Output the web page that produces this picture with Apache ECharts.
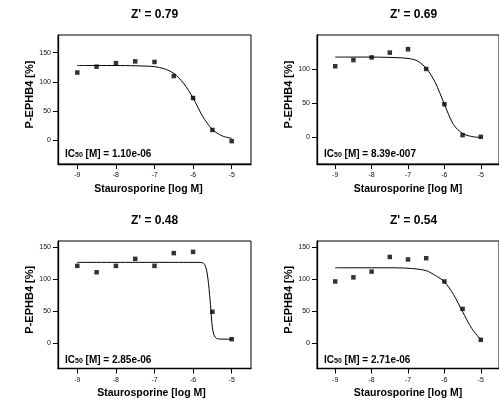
<!DOCTYPE html>
<html>
<head>
<meta charset="utf-8">
<script src="https://cdn.jsdelivr.net/npm/echarts@6/dist/echarts.min.js"></script>
<style>
html,body{margin:0;padding:0;background:#fff;}
#chart{width:499px;height:400px;}
</style>
</head>
<body>
<div id="chart"></div>
<script>
// ---- data ----
var concLog = [-9, -8.5, -8, -7.5, -7, -6.5, -6, -5.5, -5];
var points1 = [116, 126, 132, 135, 134, 110, 72.5, 18, -1];
var points2 = [104, 113, 117, 124, 129, 100, 48, 2.5, 0];
var points3 = [121, 111, 121, 132, 121, 141, 143, 49, 6];
var points4 = [96.5, 103, 112, 135, 131, 133, 96.5, 53.5, 5];

// fitted curves
var curve1X = [-9, -8.75, -8.5, -8.25, -8, -7.75, -7.5, -7.25, -7, -6.75, -6.5, -6.25, -6, -5.75, -5.5, -5.25, -5];
var curve1Y = [128, 128, 128, 128, 128, 127.8, 127.5, 127, 126, 122.5, 114.5, 98, 72.5, 41, 19, 8, 3.8];
var curve2X = [-9, -8.75, -8.5, -8.25, -8, -7.75, -7.5, -7.25, -7, -6.75, -6.5, -6.25, -6, -5.75, -5.5, -5.25, -5];
var curve2Y = [117.5, 117.5, 117.5, 117.5, 117.5, 117.3, 117, 116.5, 115.5, 112, 101, 80, 48, 18, 5, 0.5, -1];
var curve3X = [-9, -8.5, -8, -7.5, -7, -6.5, -6, -5.9, -5.8, -5.75, -5.7, -5.65, -5.6, -5.55, -5.5, -5.45, -5.4, -5.35, -5.3, -5.2, -5.1, -5];
var curve3Y = [126.5, 126.5, 126.5, 126.5, 126.5, 126.5, 126.5, 126.5, 126.3, 125.8, 123, 114, 93, 60, 24, 11, 7.5, 6.5, 6.2, 6, 6, 6];
var curve4X = [-9, -8.75, -8.5, -8.25, -8, -7.75, -7.5, -7.25, -7, -6.75, -6.5, -6.25, -6, -5.75, -5.5, -5.25, -5];
var curve4Y = [118, 118, 118, 118, 118, 118, 118, 117.8, 117.3, 116, 113.5, 106, 96, 76, 49, 23, 5];

var zTitles = ["Z' = 0.79", "Z' = 0.69", "Z' = 0.48", "Z' = 0.54"];
var ic50Values = ["1.10e-06", "8.39e-007", "2.85e-06", "2.71e-06"];
var xTicks = [-9, -8, -7, -6, -5];
var yTicks1 = [0, 50, 100, 150];
var yTicks2 = [0, 50, 100];
var yTicks3 = [0, 50, 100, 150];
var yTicks4 = [0, 50, 100, 150];
var yName = "P-EPHB4 [%]";
var xName = "Staurosporine [log M]";

// ---- layout ----
var FONT = "'Liberation Sans', Arial, Helvetica, sans-serif";
var grids = [
  {left: 58, top: 35, width: 193, height: 129},
  {left: 317, top: 35, width: 193, height: 129},
  {left: 58, top: 241, width: 193, height: 129},
  {left: 317, top: 241, width: 193, height: 129}
];
var yRanges = [[-40, 180], [-40, 150], [-40, 160], [-40, 160]];
var yTicksAll = [yTicks1, yTicks2, yTicks3, yTicks4];
var pointsAll = [points1, points2, points3, points4];
var curvesAll = [[curve1X, curve1Y], [curve2X, curve2Y], [curve3X, curve3Y], [curve4X, curve4Y]];
var xNamePad = [[0, 12, 0, 0], [0, 0, 0, 0], [0, 6, 0, 0], [0, 0, 0, 0]];

var gridOpts = [], xAxes = [], yAxes = [], series = [], graphics = [];
for (var i = 0; i < 4; i++) {
  var g = grids[i];
  gridOpts.push({left: g.left, top: g.top, width: g.width, height: g.height,
    show: true, borderColor: '#000', borderWidth: 1, backgroundColor: 'transparent', containLabel: false});
  xAxes.push({
    type: 'value', gridIndex: i, min: -9.5, max: -4.5,
    name: xName, nameLocation: 'middle', nameGap: 19.5,
    nameTextStyle: {fontFamily: FONT, fontWeight: 'bold', fontSize: 10.5, color: '#000', padding: xNamePad[i]},
    axisLine: {show: true, onZero: false, lineStyle: {color: '#000', width: 1.3}},
    axisTick: {show: true, length: 5, customValues: xTicks, lineStyle: {color: '#000', width: 1}},
    axisLabel: {customValues: xTicks, margin: 8, fontFamily: FONT, fontSize: 7, color: '#111'},
    splitLine: {show: false}
  });
  yAxes.push({
    type: 'value', gridIndex: i, min: yRanges[i][0], max: yRanges[i][1],
    name: yName, nameLocation: 'middle', nameGap: 20, nameRotate: 90,
    nameTextStyle: {fontFamily: FONT, fontWeight: 'bold', fontSize: 11, color: '#000', padding: [0, 0, 0, 10]},
    axisLine: {show: true, onZero: false, lineStyle: {color: '#000', width: 1.3}},
    axisTick: {show: true, length: 5, customValues: yTicksAll[i], lineStyle: {color: '#000', width: 1}},
    axisLabel: {customValues: yTicksAll[i], margin: 7, fontFamily: FONT, fontSize: 7, color: '#111'},
    splitLine: {show: false}
  });
  var pts = pointsAll[i].map(function (v, k) { return [concLog[k], v]; });
  var cx = curvesAll[i][0], cy = curvesAll[i][1];
  var cur = cx.map(function (x, k) { return [x, cy[k]]; });
  series.push({
    type: 'line', xAxisIndex: i, yAxisIndex: i, data: cur, smooth: 0.3,
    showSymbol: false, symbol: 'none', lineStyle: {color: '#000', width: 1}, silent: true, z: 2
  });
  series.push({
    type: 'scatter', xAxisIndex: i, yAxisIndex: i, data: pts, symbol: 'rect', symbolSize: 4.5,
    itemStyle: {color: '#000'}, silent: true, z: 3
  });
  graphics.push({
    type: 'text', x: g.left + g.width / 2, y: g.top - 20,
    style: {text: zTitles[i], fontFamily: FONT, fontWeight: 'bold', fontSize: 12, fill: '#000',
      align: 'center', verticalAlign: 'middle'}
  });
  graphics.push({
    type: 'text', x: g.left + 7, y: g.top + g.height - 11,
    style: {
      text: '{n|IC}{s|50}{n| [M] = ' + ic50Values[i] + '}',
      align: 'left', verticalAlign: 'middle',
      rich: {
        n: {fontFamily: FONT, fontWeight: 'bold', fontSize: 10, fill: '#000', lineHeight: 12, verticalAlign: 'bottom'},
        s: {fontFamily: FONT, fontWeight: 'bold', fontSize: 7, fill: '#000', lineHeight: 10, verticalAlign: 'bottom'}
      }
    }
  });
}

var chart = echarts.init(document.getElementById('chart'), null, {renderer: 'canvas'});
chart.setOption({
  animation: false,
  backgroundColor: '#fff',
  grid: gridOpts,
  xAxis: xAxes,
  yAxis: yAxes,
  series: series,
  graphic: graphics
});
</script>
</body>
</html>
